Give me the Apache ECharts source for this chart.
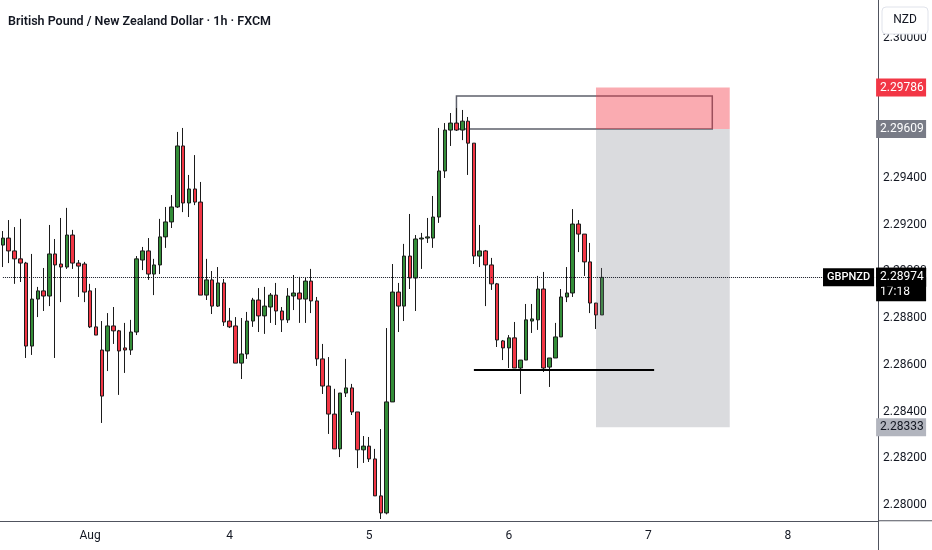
<!DOCTYPE html>
<html><head><meta charset="utf-8">
<script src="https://cdn.jsdelivr.net/npm/echarts@6/dist/echarts.min.js"></script>
<style>html,body{margin:0;padding:0;background:#fff}#c{width:932px;height:550px}</style>
</head><body><div id="c"></div>
<script>
const titleText = 'British Pound / New Zealand Dollar · 1h · FXCM';
const symbolName = 'GBPNZD';
const currencyName = 'NZD';
const countdown = '17:18';

const opens = [2.29112,2.29142,2.29087,2.29053,2.29035,2.28680,2.28881,2.28916,2.28894,2.29074,
2.29031,2.29018,2.29155,2.29035,2.29031,2.28916,2.28762,2.28663,2.28659,2.28766,
2.28745,2.28672,2.28663,2.28740,2.29048,2.29087,2.28988,2.29027,2.29147,2.29211,
2.29275,2.29536,2.29292,2.29352,2.29296,2.28898,2.28963,2.28851,2.28950,2.28787,
2.28766,2.28607,2.28646,2.28787,2.28877,2.28809,2.28847,2.28898,2.28830,2.28792,
2.28894,2.28907,2.28881,2.28958,2.28873,2.28625,2.28509,2.28389,2.28240,2.28479,
2.28501,2.28398,2.28236,2.28252,2.28197,2.28039,2.27966,2.28441,2.28911,2.28851,
2.29065,2.28971,2.29138,2.29142,2.29142,2.29232,2.29429,2.29604,2.29634,2.29604,
2.29642,2.29548,2.29065,2.29087,2.29027,2.28946,2.28702,2.28672,2.28715,2.28586,
2.28620,2.28787,2.28792,2.28924,2.28590,2.28629,2.28719,2.28890,2.28907,2.29202,
2.29159,2.29040,2.28864,2.28813];
const closes = [2.29142,2.29087,2.29053,2.29035,2.28680,2.28881,2.28916,2.28894,2.29074,2.29027,
2.29018,2.29155,2.29035,2.29022,2.28911,2.28762,2.28727,2.28466,2.28766,2.28745,
2.28659,2.28663,2.28740,2.29053,2.29087,2.28988,2.29027,2.29147,2.29211,2.29275,
2.29536,2.29292,2.29352,2.29296,2.28898,2.28963,2.28851,2.28950,2.28783,2.28762,
2.28607,2.28646,2.28787,2.28877,2.28809,2.28851,2.28898,2.28830,2.28792,2.28894,
2.28907,2.28881,2.28958,2.28873,2.28625,2.28509,2.28389,2.28240,2.28479,2.28501,
2.28398,2.28236,2.28252,2.28197,2.28039,2.27966,2.28441,2.28911,2.28851,2.29065,
2.28971,2.29138,2.29142,2.29147,2.29232,2.29429,2.29604,2.29634,2.29604,2.29642,
2.29548,2.29065,2.29087,2.29027,2.28946,2.28706,2.28672,2.28715,2.28586,2.28620,
2.28792,2.28796,2.28924,2.28586,2.28629,2.28719,2.28890,2.28907,2.29202,2.29159,
2.29040,2.28864,2.28813,2.28974];
const lows = [2.29018,2.29035,2.28946,2.28954,2.28629,2.28642,2.28804,2.28830,2.28851,2.28629,
2.28868,2.29010,2.29010,2.28890,2.28868,2.28757,2.28727,2.28351,2.28573,2.28689,
2.28471,2.28565,2.28642,2.28727,2.29005,2.28963,2.28898,2.28988,2.29100,2.29185,
2.29271,2.29253,2.29232,2.29283,2.28898,2.28877,2.28817,2.28847,2.28766,2.28757,
2.28607,2.28539,2.28625,2.28762,2.28740,2.28732,2.28779,2.28770,2.28740,2.28779,
2.28834,2.28779,2.28779,2.28821,2.28595,2.28475,2.28304,2.28240,2.28205,2.28462,
2.28385,2.28158,2.28180,2.28184,2.28039,2.27940,2.27960,2.28441,2.28740,2.28787,
2.28924,2.28830,2.29010,2.29121,2.29100,2.29207,2.29399,2.29536,2.29600,2.29561,
2.29412,2.29031,2.29018,2.28851,2.28920,2.28676,2.28620,2.28586,2.28586,2.28475,
2.28620,2.28736,2.28749,2.28569,2.28505,2.28629,2.28719,2.28868,2.28890,2.29082,
2.28980,2.28821,2.28753,2.28813];
const highs = [2.29172,2.29219,2.29189,2.29224,2.29040,2.29074,2.28933,2.29014,2.29198,2.29138,
2.29228,2.29271,2.29177,2.29048,2.29040,2.28946,2.28928,2.28787,2.28821,2.28847,
2.28749,2.28779,2.28792,2.29065,2.29104,2.29142,2.29053,2.29224,2.29275,2.29326,
2.29596,2.29613,2.29412,2.29497,2.29382,2.29053,2.29001,2.29018,2.28967,2.28843,
2.28804,2.28800,2.28826,2.28886,2.28928,2.28933,2.28907,2.28950,2.28847,2.28928,
2.28984,2.28976,2.28971,2.29010,2.28890,2.28689,2.28633,2.28497,2.28479,2.28625,
2.28518,2.28398,2.28295,2.28291,2.28240,2.28325,2.28757,2.29031,2.28950,2.29117,
2.29245,2.29155,2.29164,2.29228,2.29322,2.29613,2.29634,2.29677,2.29698,2.29690,
2.29660,2.29548,2.29198,2.29091,2.29057,2.28950,2.28706,2.28727,2.28783,2.28620,
2.28860,2.28860,2.28980,2.28997,2.28629,2.28779,2.28924,2.29018,2.29266,2.29219,
2.29159,2.29121,2.28864,2.29014];

const slotCount = 151;
const tickIndex = [15, 39, 63, 87, 111, 135];
const tickText = ['Aug', '4', '5', '6', '7', '8'];
const hiddenPriceTicks = [2.278, 2.298, 2.296, 2.302];

const lastPrice = 2.28974;
const stopPrice = 2.29786;
const entryPrice = 2.29609;
const targetPrice = 2.28333;
const zoneFrom = 102, zoneTo = 125;
const boxTop = 2.29750, boxBottom = 2.29609, boxFrom = 78, boxTo = 122;
const supportPrice = 2.28580, supportFrom = 81, supportTo = 112;

const FONT = 'Roboto, "Noto Sans", sans-serif';
const cats = Array.from({length: slotCount}, (_, i) => String(i));
const ohlc = opens.map((o, i) => [o, closes[i], lows[i], highs[i]]);
const HIDDEN_LINE = {color: 'rgba(0,0,0,0)', width: 1, type: 'solid'};
const FIRST = 0, LAST = slotCount - 1;

function tag(value, text, bg, fg, extra) {
  return [
    {coord: [FIRST, value], lineStyle: HIDDEN_LINE,
     label: Object.assign({
       show: true, position: 'end', distance: 1, formatter: text,
       backgroundColor: bg, color: fg, padding: [3, 4, 2, 4], width: 42,
       fontSize: 12, lineHeight: 13, fontFamily: FONT
     }, extra || {})},
    {coord: [LAST, value]}
  ];
}

const chart = echarts.init(document.getElementById('c'));
chart.setOption({
  animation: false,
  backgroundColor: '#ffffff',
  title: {
    text: titleText, left: 3, top: 10,
    textStyle: {fontSize: 12.5, fontWeight: 600, color: '#131722', fontFamily: FONT}
  },
  grid: {left: 0, right: 54, top: -9.25, bottom: -1.75, containLabel: false, outerBoundsMode: 'none'},
  xAxis: {
    type: 'category', data: cats, boundaryGap: true, offset: -31,
    axisLine: {onZero: false, lineStyle: {color: '#50535e', width: 1}},
    axisTick: {show: false}, splitLine: {show: false},
    axisLabel: {
      interval: (i) => tickIndex.includes(i),
      formatter: (v) => { const k = tickIndex.indexOf(Number(v)); return k >= 0 ? tickText[k] : ''; },
      color: '#131722', fontSize: 12, margin: 9, fontFamily: FONT
    }
  },
  yAxis: {
    type: 'value', position: 'right', min: 2.278, max: 2.302, interval: 0.002,
    axisLine: {show: true, onZero: false, lineStyle: {color: '#50535e', width: 1}},
    axisTick: {show: false}, splitLine: {show: false},
    axisLabel: {
      margin: 5, color: '#131722', fontSize: 12, fontFamily: FONT,
      formatter: (v) => hiddenPriceTicks.some(h => Math.abs(h - v) < 1e-7) ? '' : v.toFixed(5)
    }
  },
  series: [
    {
      type: 'candlestick', data: ohlc, barWidth: 4, z: 2,
      itemStyle: {color: '#338d38', color0: '#f23645', borderColor: '#1b1b1b', borderColor0: '#1b1b1b', borderWidth: 1},
      markArea: {
        silent: true, z: 1,
        data: [[
          {xAxis: boxFrom, yAxis: boxTop, itemStyle: {color: 'rgba(0,0,0,0)', borderColor: '#5d606b', borderWidth: 1.5}},
          {xAxis: boxTo, yAxis: boxBottom}
        ]]
      }
    },
    {
      type: 'scatter', data: [], z: 3, silent: true,
      markArea: {
        silent: true, z: 3,
        data: [
          [{xAxis: zoneFrom, yAxis: stopPrice, itemStyle: {color: 'rgba(242,54,69,0.42)'}}, {xAxis: zoneTo, yAxis: entryPrice}],
          [{xAxis: zoneFrom, yAxis: entryPrice, itemStyle: {color: 'rgba(120,123,134,0.27)'}}, {xAxis: zoneTo, yAxis: targetPrice}]
        ]
      },
      markLine: {
        silent: true, symbol: ['none', 'none'], label: {show: false},
        lineStyle: {color: '#000000', width: 2, type: 'solid'},
        data: [[{coord: [supportFrom, supportPrice]}, {coord: [supportTo, supportPrice]}]]
      }
    },
    {
      type: 'scatter', data: [], z: 6, silent: true,
      markLine: {
        silent: true, symbol: ['none', 'none'], animation: false, z: 6,
        data: [
          (() => { const t = tag(lastPrice, lastPrice.toFixed(5), '#000000', '#ffffff', {padding: [3, 4, 3, 4]});
                   t[0].lineStyle = {type: 'dotted', color: '#131722', width: 1}; return t; })(),
          tag(lastPrice, countdown, '#000000', '#ffffff', {verticalAlign: 'top', padding: [8, 4, 3, 4]}),
          tag(lastPrice, lastPrice.toFixed(5), '#000000', '#ffffff', {padding: [3, 4, 3, 4]}),
          tag(lastPrice, symbolName, '#000000', '#ffffff', {position: 'insideEnd', width: null, padding: [3, 4, 2, 4], fontSize: 11, fontWeight: 500}),
          tag(stopPrice, stopPrice.toFixed(5), '#f23645', '#ffffff'),
          tag(entryPrice, entryPrice.toFixed(5), '#787b86', '#ffffff'),
          tag(targetPrice, targetPrice.toFixed(5), '#b2b5be', '#131722')
        ]
      }
    }
  ],
  graphic: [
    {type: 'line', z: 50, shape: {x1: 878, y1: 520.75, x2: 932, y2: 520.75}, style: {stroke: '#50535e', lineWidth: 1}},
    {type: 'rect', z: 100, shape: {x: 882, y: 7, width: 46, height: 27, r: 4}, style: {fill: '#ffffff', stroke: '#e0e3eb', lineWidth: 1}},
    {type: 'text', z: 101, x: 905, y: 20, style: {text: currencyName, align: 'center', verticalAlign: 'middle', fontSize: 12, fill: '#131722', fontFamily: FONT}}
  ]
});
</script>
</body></html>
